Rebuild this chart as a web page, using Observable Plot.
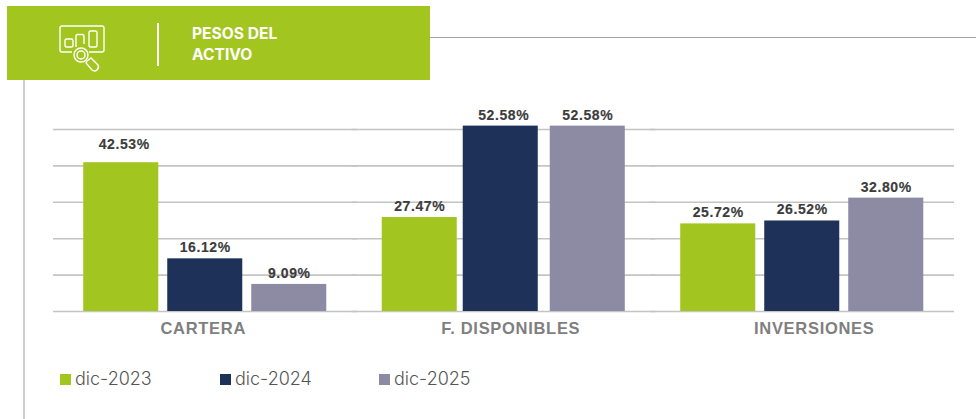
<!DOCTYPE html>
<html>
<head>
<meta charset="utf-8">
<script src="https://cdn.jsdelivr.net/npm/d3@7"></script>
<script src="https://cdn.jsdelivr.net/npm/@observablehq/plot@0.6"></script>
<style>
html,body{margin:0;padding:0;background:#fff;}
#wrap{position:relative;width:976px;height:419px;overflow:hidden;}
#wrap svg.chart{position:absolute;left:0;top:0;}
.val text{letter-spacing:.6px;}
.cat text{letter-spacing:.7px;}
#topline{position:absolute;left:430px;top:37px;width:546px;height:1px;background:#a3a3a3;}
#sideline{position:absolute;left:23px;top:80px;width:2px;height:339px;background:#cfcfcf;}
#banner{position:absolute;left:7px;top:6px;width:423px;height:74px;background:#a2c61f;}
#divider{position:absolute;left:150px;top:17px;width:2px;height:43px;background:#fff;}
#btitle{position:absolute;left:185px;top:18px;font:700 15.6px/20.5px "Inter",sans-serif;color:#fff;}
#icon{position:absolute;left:51px;top:19px;}
#legend{position:absolute;left:0;top:0;font:300 18px "Inter",sans-serif;color:#555;}
.li{position:absolute;top:368px;white-space:nowrap;line-height:22px;}
.sw{position:absolute;top:374px;width:11px;height:11px;}
</style>
</head>
<body>
<div id="wrap">
  <div id="topline"></div>
  <div id="sideline"></div>
  <div id="banner">
    <svg id="icon" width="48" height="52" viewBox="0 0 48 52" fill="none" stroke="#fff" stroke-width="1.4">
      <path d="M14 27H4a2 2 0 0 1-2-2V3a2 2 0 0 1 2-2h40a2 2 0 0 1 2 2v22a2 2 0 0 1-2 2H31"/>
      <rect x="7" y="14" width="8" height="8" rx="1.5"/>
      <path d="M18 22V11a1.5 1.5 0 0 1 1.5-1.5h5a1.5 1.5 0 0 1 1.5 1.5v8"/>
      <rect x="31" y="6" width="8" height="16" rx="1.5"/>
      <circle cx="23" cy="30" r="7"/>
      <circle cx="23" cy="30" r="4"/>
      <path d="M29 36l4-3 7 7a4 4 0 0 1-6 5l-6-7z"/>
    </svg>
    <div id="divider"></div>
    <div id="btitle">PESOS DEL<br>ACTIVO</div>
  </div>
  <div id="legend"></div>
</div>
<script>
const categories = ["CARTERA", "F. DISPONIBLES", "INVERSIONES"];
const seriesNames = ["dic-2023", "dic-2024", "dic-2025"];
const seriesColors = ["#a2c61f", "#1e3259", "#8c8ba3"];
const values2023 = [42.53, 27.47, 25.72];
const values2024 = [16.12, 52.58, 26.52];
const values2025 = [9.09, 52.58, 32.80];
const axisBase = 1.65;
const gridValues = [1.65, 11.65, 21.65, 31.65, 41.65, 51.65];
const categoryShift = [-2, 7, 12];

const rows = [];
[values2023, values2024, values2025].forEach((vals, s) => {
  vals.forEach((v, c) => rows.push({cat: categories[c], series: seriesNames[s], value: v}));
});
const fmt = v => v.toFixed(2) + "%";
const labelStyle = {className: "val", fontSize: 14, fontWeight: 700, fontFamily: "Liberation Sans", fill: "#3c3c3c", stroke: "#3c3c3c", strokeWidth: 0.15, textAnchor: "middle", lineAnchor: "middle"};
const isHigh = d => d.value === 42.53;
const isShifted = d => d.cat === "F. DISPONIBLES" && d.series === "dic-2024";

const chart = Plot.plot({
  width: 976,
  height: 419,
  marginTop: 0,
  marginLeft: 55.5,
  marginRight: 25,
  marginBottom: 108,
  style: {background: "transparent"},
  className: "chart",
  x: {axis: null, domain: seriesNames, paddingInner: 0.107, paddingOuter: 0.33, round: false},
  fx: {domain: categories, paddingInner: 0, paddingOuter: 0, round: false, axis: null},
  y: {axis: null, domain: [axisBase, axisBase + 60], range: [311, 92.6]},
  color: {domain: seriesNames, range: seriesColors},
  marks: [
    Plot.ruleY(gridValues, {stroke: "#c4c4c4", strokeWidth: 1.6, insetLeft: -2.5, insetRight: -3}),
    Plot.barY(rows.filter(d => !isShifted(d)), {x: "series", fx: "cat", y1: axisBase, y2: "value", fill: "series"}),
    Plot.barY(rows.filter(isShifted), {x: "series", fx: "cat", y1: axisBase, y2: "value", fill: "series", dx: -3}),
    Plot.text(rows.filter(d => !isHigh(d)), {x: "series", fx: "cat", y: "value", text: d => fmt(d.value), dy: -11, ...labelStyle}),
    Plot.text(rows.filter(isHigh), {x: "series", fx: "cat", y: "value", text: d => fmt(d.value), dy: -18, dx: 3, ...labelStyle}),
    ...categories.map((c, i) => Plot.text([c], {
      fx: d => d, text: d => d, frameAnchor: "bottom", lineAnchor: "middle", dy: 17, dx: categoryShift[i],
      className: "cat", fontSize: 16.5, fontWeight: 700, fontFamily: "Liberation Sans", fill: "#7f7f7f"
    }))
  ]
});
document.getElementById("wrap").insertBefore(chart, document.getElementById("banner"));

const legend = document.getElementById("legend");
const swX = [60, 220, 379];
seriesNames.forEach((n, i) => {
  const s = document.createElement("div");
  s.className = "sw"; s.style.left = swX[i] + "px"; s.style.background = seriesColors[i];
  const t = document.createElement("div");
  t.className = "li"; t.style.left = (swX[i] + 15) + "px"; t.textContent = n;
  legend.append(s, t);
});
</script>
</body>
</html>
